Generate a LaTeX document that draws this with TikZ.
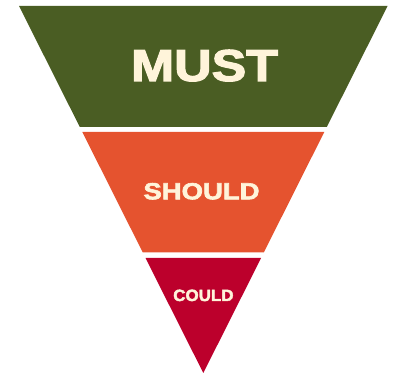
\documentclass[tikz,border=0pt]{standalone}
\usepackage{fontspec}
\setmainfont{Liberation Sans}
\newfontfamily\heavyfont[BoldFont={Liberation Sans Bold},BoldFeatures={FakeBold=2.5}]{Liberation Sans}
\definecolor{mustgreen}{HTML}{4A5D23}
\definecolor{shouldorange}{HTML}{E5532F}
\definecolor{couldred}{HTML}{BC002C}
\definecolor{cream}{HTML}{FFF4DA}
\tikzset{
  lbl/.style={anchor=base, inner sep=0pt, text=cream, font=\heavyfont\bfseries}
}
\begin{document}
\begin{tikzpicture}[x=1pt,y=-1pt]
\useasboundingbox (0,0) rectangle (394,374);
\fill[mustgreen] (19,6) -- (387.6,6) -- (326.8,127) -- (79.8,127) -- cycle;
\fill[shouldorange] (82.3,132) -- (324.3,132) -- (263.8,252.5) -- (142.8,252.5) -- cycle;
\fill[couldred] (145.5,258) -- (261.1,258) -- (203.3,373) -- cycle;
\node[lbl] (must) at (204.5,81) {\fontsize{44.7}{50}\selectfont\scalebox{1.16}[1]{MUST}};
\node[lbl] (should) at (201.5,199.3) {\fontsize{23.3}{28}\selectfont\scalebox{1.18}[1]{SHOULD}};
\node[lbl] (could) at (203.4,301) {\fontsize{16.3}{20}\selectfont\scalebox{1.04}[1]{COULD}};
\end{tikzpicture}
\end{document}
